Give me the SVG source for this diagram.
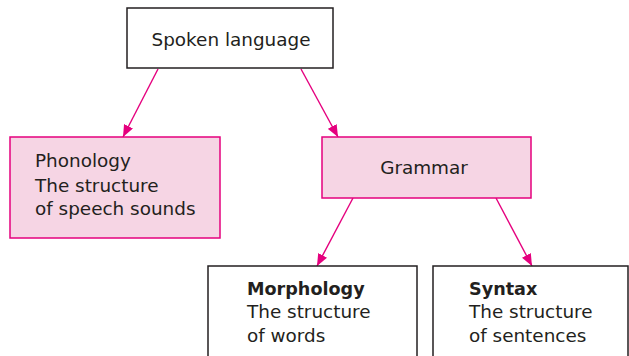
<svg xmlns="http://www.w3.org/2000/svg" width="629" height="356" viewBox="0 0 629 356">
<style>
.box{fill:#ffffff;stroke:#231f20;stroke-width:1.5}
.pbox{fill:#f6d5e4;stroke:#e5007e;stroke-width:1.5}
text{font-family:"DejaVu Sans","Noto Sans",sans-serif;font-size:18.4px;fill:#231f20}
.b{font-weight:bold;font-size:17.6px}
.edge{stroke:#e5007e;stroke-width:1.4;fill:none;marker-end:url(#ah)}
</style>
<defs>
<marker id="ah" viewBox="0 0 12 10" refX="12" refY="5" markerWidth="12" markerHeight="10" markerUnits="userSpaceOnUse" orient="auto">
<path d="M0,0 L12,5 L0,10 Z" fill="#e5007e"/>
</marker>
</defs>
<g id="connectors">
<line class="edge" x1="158" y1="69" x2="123" y2="137"/>
<line class="edge" x1="301" y1="69" x2="338" y2="137"/>
<line class="edge" x1="353" y1="198" x2="317" y2="266"/>
<line class="edge" x1="496" y1="198" x2="532" y2="266"/>
</g>
<g id="spoken">
<rect class="box" x="127" y="8" width="206" height="60"/>
<text x="231" y="46" text-anchor="middle">Spoken language</text>
</g>
<g id="phonology">
<rect class="pbox" x="10" y="137" width="210" height="101"/>
<text x="35" y="167">Phonology</text>
<text x="35" y="192">The structure</text>
<text x="35" y="215">of speech sounds</text>
</g>
<g id="grammar">
<rect class="pbox" x="322" y="137" width="209" height="61"/>
<text x="424" y="174" text-anchor="middle">Grammar</text>
</g>
<g id="morphology">
<rect class="box" x="208" y="266" width="209" height="100"/>
<text class="b" x="247" y="295">Morphology</text>
<text x="247" y="318">The structure</text>
<text x="247" y="342">of words</text>
</g>
<g id="syntax">
<rect class="box" x="433" y="266" width="195" height="100"/>
<text class="b" x="469" y="295">Syntax</text>
<text x="469" y="318">The structure</text>
<text x="469" y="342">of sentences</text>
</g>
</svg>
